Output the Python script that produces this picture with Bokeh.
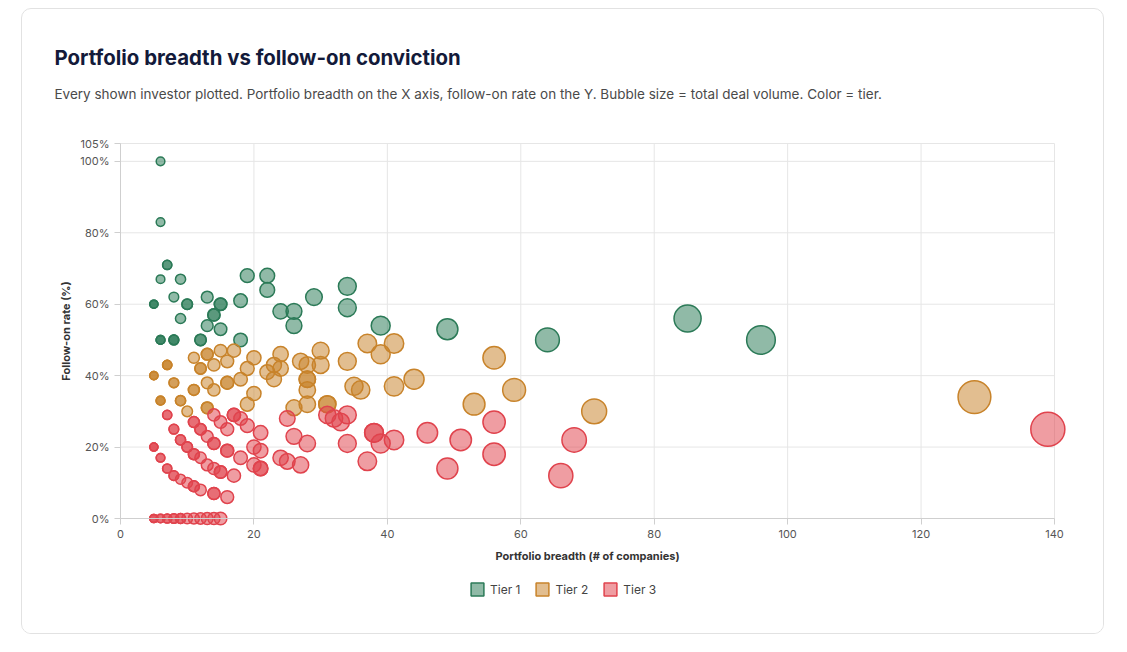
import numpy as np
from bokeh.plotting import figure
from bokeh.layouts import column
from bokeh.models import (Range1d, FixedTicker, PrintfTickFormatter, Legend,
                          LegendItem, ColumnDataSource, Title)
from bokeh.embed import file_html
from bokeh.resources import INLINE

TITLE = "Portfolio breadth vs follow-on conviction"
SUBTITLE = ("Every shown investor plotted. Portfolio breadth on the X axis, follow-on rate "
            "on the Y. Bubble size = total deal volume. Color = tier.")
X_LABEL = "Portfolio breadth (# of companies)"
Y_LABEL = "Follow-on rate (%)"
X_TICKS = [0, 20, 40, 60, 80, 100, 120, 140]
Y_TICKS = [0, 20, 40, 60, 80, 100, 105]

TIER_NAMES = ["Tier 1", "Tier 2", "Tier 3"]
TIER_COLORS = ["#2b7a57", "#c8832a", "#e0434d"]

# Tier 1 investors: breadth (# companies), follow-on rate (%), total deals
t1_breadth = [6, 6, 7, 7, 6, 9, 8, 5, 5, 5, 10, 10, 9, 13, 15, 15, 14, 14, 13, 15,
              18, 19, 22, 22, 24, 26, 26, 29, 34, 34, 6, 6, 6, 8, 8, 8, 12, 12, 18,
              39, 49, 64, 85, 96]
t1_follow = [100, 83, 71, 71, 67, 67, 62, 60, 60, 60, 60, 60, 56, 62, 60, 60, 57, 57, 54, 53,
             61, 68, 68, 64, 58, 58, 54, 62, 65, 59, 50, 50, 50, 50, 50, 50, 50, 50, 50,
             54, 53, 50, 56, 50]
t1_deals = [6, 6, 7, 7, 6, 9, 8, 5, 5, 5, 10, 10, 9, 13, 15, 15, 14, 14, 13, 15,
            18, 19, 22, 22, 24, 26, 26, 29, 34, 34, 6, 6, 6, 8, 8, 8, 12, 12, 18,
            39, 49, 64, 85, 96]

# Tier 2 investors
t2_breadth = [11, 13, 13, 15, 17, 7, 7, 7, 12, 12, 14, 16, 5, 5, 5, 8, 8, 13, 14, 16,
              16, 11, 11, 6, 6, 6, 9, 9, 10, 13, 13, 18, 19, 20, 20, 19, 22, 23, 23, 24,
              24, 27, 28, 30, 30, 28, 28, 28, 28, 26, 31, 31, 34, 35, 36, 37, 39, 41, 41,
              44, 56, 59, 53, 71, 128]
t2_follow = [45, 46, 46, 47, 47, 43, 43, 43, 42, 42, 43, 44, 40, 40, 40, 38, 38, 38, 36, 38,
             38, 36, 36, 33, 33, 33, 33, 33, 30, 31, 31, 39, 42, 45, 35, 32, 41, 43, 39, 46,
             42, 44, 43, 47, 43, 39, 39, 36, 32, 31, 32, 32, 44, 37, 36, 49, 46, 49, 37,
             39, 45, 36, 32, 30, 34]
t2_deals = [11, 13, 13, 15, 17, 7, 7, 7, 12, 12, 14, 16, 5, 5, 5, 8, 8, 13, 14, 16,
            16, 11, 11, 6, 6, 6, 9, 9, 10, 13, 13, 18, 19, 20, 20, 19, 22, 23, 23, 24,
            24, 27, 28, 30, 30, 28, 28, 28, 28, 26, 31, 31, 34, 35, 36, 37, 39, 41, 41,
            44, 56, 59, 53, 71, 128]

# Tier 3 investors
t3_breadth = [7, 7, 11, 11, 12, 12, 14, 15, 16, 17, 17, 18, 19, 21, 8, 8, 13, 14, 14,
              5, 5, 5, 9, 9, 10, 10, 11, 11, 12, 6, 6, 16, 16, 18, 20, 21, 7, 7, 8, 8,
              9, 10, 11, 11, 12, 13, 14, 15, 15, 17, 14, 14, 16, 20, 21, 21,
              25, 26, 28, 24, 25, 27, 31, 32, 33, 34, 34, 38, 38, 39, 41, 37, 46, 51,
              49, 56, 56, 68, 66, 139,
              5, 5, 5, 6, 6, 7, 7, 8, 8, 9, 9, 10, 11, 12, 13, 14, 15]
t3_follow = [29, 29, 27, 27, 25, 25, 29, 27, 25, 29, 29, 28, 26, 24, 25, 25, 23, 21, 21,
             20, 20, 20, 22, 22, 20, 20, 18, 18, 17, 17, 17, 19, 19, 17, 20, 19, 14, 14, 12, 12,
             11, 10, 9, 9, 8, 15, 14, 13, 13, 12, 7, 7, 6, 15, 14, 14,
             28, 23, 21, 17, 16, 15, 29, 28, 27, 29, 21, 24, 24, 21, 22, 16, 24, 22,
             14, 27, 18, 22, 12, 25,
             0, 0, 0, 0, 0, 0, 0, 0, 0, 0, 0, 0, 0, 0, 0, 0, 0]
t3_deals = [7, 7, 11, 11, 12, 12, 14, 15, 16, 17, 17, 18, 19, 21, 8, 8, 13, 14, 14,
            5, 5, 5, 9, 9, 10, 10, 11, 11, 12, 6, 6, 16, 16, 18, 20, 21, 7, 7, 8, 8,
            9, 10, 11, 11, 12, 13, 14, 15, 15, 17, 14, 14, 16, 20, 21, 21,
            25, 26, 28, 24, 25, 27, 31, 32, 33, 34, 34, 38, 38, 39, 41, 37, 46, 51,
            49, 56, 56, 68, 66, 139,
            5, 5, 5, 6, 6, 7, 7, 8, 8, 9, 9, 10, 11, 12, 13, 14, 15]

FONT = "Inter"
CARD_W = 1081          # inner width of the card
CARD_PAD_TOP = 33      # space above the title
HEAD_H = 92            # title block height
MAIN_H = 499           # chart block height

# plotting box (px) and the slack kept round it: edge bubbles stay whole and
# both axes, their labels and the legend are drawn inside the slack
BOX_W, BOX_H = 934, 375
PAD_L, PAD_R, PAD_T, PAD_B = 66, 14, 9, 115
X_MAX, Y_MAX = 140, 105


def bubble_diameter(deals):
    # area-style scale: radius grows with the square root of deal volume
    return 2.0 * (1.0 + 1.36 * np.sqrt(np.asarray(deals, dtype=float)))


# ---- title block -------------------------------------------------------
head = figure(width=CARD_W, height=HEAD_H, x_range=Range1d(0, 1), y_range=Range1d(0, 1),
              output_backend="svg", toolbar_location=None, title_location=None,
              x_axis_location=None, y_axis_location=None, min_border=0)
head.grid.visible = False
head.outline_line_color = None
head.border_fill_color = "white"
head.add_layout(Title(text=TITLE, align="left", offset=0, standoff=0,
                      text_font=FONT, text_font_size="20.4px", text_font_style="bold",
                      text_color="#131a3a"), "above")
head.add_layout(Title(text=SUBTITLE, align="left", offset=0, standoff=29,
                      text_font=FONT, text_font_size="13.5px",
                      text_font_style="normal", text_color="#4a4a4a"), "above")
# panel order runs from the frame outward: subtitle first, title on top
head.above = [head.above[1], head.above[0]]

# ---- bubble chart ------------------------------------------------------
x_range = Range1d(-X_MAX * PAD_L / BOX_W, X_MAX * (BOX_W + PAD_R) / BOX_W)
y_range = Range1d(-Y_MAX * PAD_B / BOX_H, Y_MAX * (BOX_H + PAD_T) / BOX_H)
p = figure(width=CARD_W, height=MAIN_H, x_range=x_range, y_range=y_range,
           output_backend="svg", toolbar_location=None, title_location=None,
           min_border_left=120 - 22 - PAD_L, min_border_right=49 - PAD_R,
           min_border_top=0, min_border_bottom=0)
p.background_fill_color = "white"
p.border_fill_color = "white"
p.outline_line_color = None
p.grid.visible = False

p.xaxis.ticker = FixedTicker(ticks=X_TICKS)
p.yaxis.ticker = FixedTicker(ticks=Y_TICKS)
p.yaxis.formatter = PrintfTickFormatter(format="%d%%")
# both axes sit on the zero lines of the data
p.xaxis.fixed_location = 0
p.yaxis.fixed_location = 0
p.xaxis.bounds = (0, X_MAX)
p.yaxis.bounds = (0, Y_MAX)
for ax in (p.xaxis[0], p.yaxis[0]):
    ax.axis_line_color = "#cfcfcf"
    ax.major_tick_line_color = "#cfcfcf"
    ax.major_tick_out = 6
    ax.major_tick_in = 0
    ax.minor_tick_line_color = None
    ax.major_label_text_font = FONT
    ax.major_label_text_font_size = "11px"
    ax.major_label_text_color = "#555555"
    ax.axis_label_text_font = FONT
    ax.axis_label_text_font_size = "11px"
    ax.axis_label_text_font_style = "bold"
    ax.axis_label_text_color = "#333333"
p.xaxis.axis_label = X_LABEL
p.yaxis.axis_label = Y_LABEL
p.xaxis.axis_label_standoff = 8
p.yaxis.axis_label_standoff = 4

# grid lines at the tick values, spanning only the 0..140 x 0..105 box
n_x, n_y = len(X_TICKS), len(Y_TICKS)
p.segment(x0=X_TICKS, y0=[0] * n_x, x1=X_TICKS, y1=[Y_MAX] * n_x,
          line_color="#e6e6e6", line_width=1, level="underlay")
p.segment(x0=[0] * n_y, y0=Y_TICKS, x1=[X_MAX] * n_y, y1=Y_TICKS,
          line_color="#e6e6e6", line_width=1, level="underlay")

tiers = [(t1_breadth, t1_follow, t1_deals),
         (t2_breadth, t2_follow, t2_deals),
         (t3_breadth, t3_follow, t3_deals)]

items = []
for (bx, fy, dv), name, color in zip(tiers, TIER_NAMES, TIER_COLORS):
    src = ColumnDataSource(dict(x=bx, y=fy, size=bubble_diameter(dv)))
    p.scatter("x", "y", size="size", source=src, marker="circle",
              fill_color=color, fill_alpha=0.52, line_color=color, line_width=1.5)
    # hidden square swatch, used only as the legend key
    swatch = p.quad(left=bx[:1], right=bx[:1], top=fy[:1], bottom=fy[:1],
                    fill_color=color, fill_alpha=0.52, line_color=color,
                    line_width=1.5, visible=False)
    items.append(LegendItem(label=name, renderers=[swatch]))

p.add_layout(Legend(items=items, orientation="horizontal", location=(415, 36),
                    glyph_width=16, glyph_height=16, label_standoff=5, spacing=14,
                    label_text_font=FONT, label_text_font_size="12px",
                    label_text_color="#444444", border_line_color=None,
                    background_fill_alpha=0, padding=6, margin=0))

card = column(head, p, spacing=0,
              styles={"margin-left": "21px", "margin-top": "8px",
                      "padding-top": f"{CARD_PAD_TOP}px",
                      "border": "1px solid #e2e2e2", "border-radius": "10px",
                      "overflow": "hidden", "background": "white"})

open("out.html", "w").write(file_html(card, INLINE))
